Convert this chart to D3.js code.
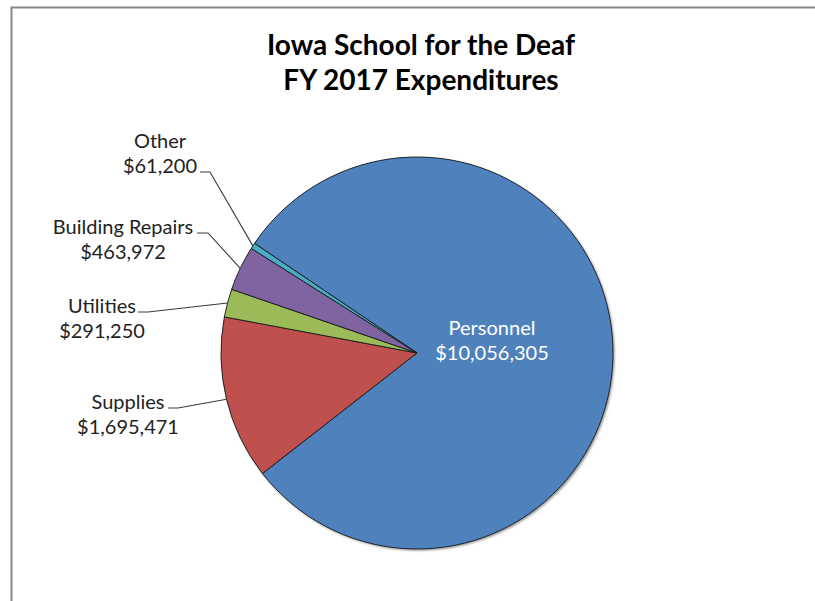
<!DOCTYPE html>
<html>
<head>
<meta charset="utf-8">
<script src="https://cdn.jsdelivr.net/npm/d3@7"></script>
<style>
  body { margin: 0; background: #fff; }
  svg { display: block; }
  text { font-family: Lato, "Liberation Sans", sans-serif; }
</style>
</head>
<body>
<div id="chart"></div>
<script>
const categories = ["Personnel", "Supplies", "Utilities", "Building Repairs", "Other"];
const amounts = [10056305, 1695471, 291250, 463972, 61200];
const sliceColors = ["#4f81bd", "#c0504d", "#9bbb59", "#8064a2", "#4bacc6"];
const titleLines = ["Iowa School for the Deaf", "FY 2017 Expenditures"];

const width = 815;
const height = 601;
const cx = 417;
const cy = 353;
const radius = 196;
const firstSliceAngle = -56; // degrees, like Excel's "angle of first slice"

const svg = d3
  .select("#chart")
  .append("svg")
  .attr("width", width)
  .attr("height", height);

// chart area frame, runs off the right and bottom edge
svg
  .append("rect")
  .attr("x", 11.5)
  .attr("y", 7.5)
  .attr("width", width + 20)
  .attr("height", height + 20)
  .attr("fill", "#fff")
  .attr("stroke", "#878787")
  .attr("stroke-width", 2);

const defs = svg.append("defs");
defs
  .append("filter")
  .attr("id", "shadow")
  .attr("x", "-10%")
  .attr("y", "-10%")
  .attr("width", "120%")
  .attr("height", "120%")
  .append("feDropShadow")
  .attr("dx", 1.5)
  .attr("dy", 1.5)
  .attr("stdDeviation", 1.2)
  .attr("flood-color", "#000")
  .attr("flood-opacity", 0.45);

const title = svg
  .append("text")
  .attr("x", 421)
  .attr("y", 55)
  .attr("text-anchor", "middle")
  .attr("font-size", 28)
  .attr("font-weight", "bold")
  .attr("fill", "#000");

title
  .selectAll("tspan")
  .data(titleLines)
  .enter()
  .append("tspan")
  .attr("x", 421)
  .attr("dy", (d, i) => (i === 0 ? 0 : 35))
  .text((d) => d);

const data = categories.map((c, i) => ({
  name: c,
  value: amounts[i],
  color: sliceColors[i],
}));

const start = (firstSliceAngle * Math.PI) / 180;
const pie = d3
  .pie()
  .sort(null)
  .value((d) => d.value)
  .startAngle(start)
  .endAngle(start + 2 * Math.PI);

const arcs = pie(data);
const arc = d3.arc().innerRadius(0).outerRadius(radius);

const g = svg.append("g").attr("transform", `translate(${cx},${cy})`);

g.append("circle")
  .attr("r", radius)
  .attr("fill", "#4f81bd")
  .attr("filter", "url(#shadow)");

g.selectAll(".slice")
  .data(arcs)
  .enter()
  .append("path")
  .attr("class", "slice")
  .attr("d", arc)
  .attr("fill", (d) => d.data.color)
  .attr("stroke", "#1a1a1a")
  .attr("stroke-width", 0.9)
  .attr("stroke-linejoin", "round");

const fmt = (v) => "$" + d3.format(",")(v);

// label layout (Excel placed these by hand)
const labelPos = {
  Personnel: { x: 492, y: 335, color: "#fff", leader: null },
  Supplies: { x: 128, y: 409, color: "#222", leader: [168, 178] },
  Utilities: { x: 102, y: 313, color: "#222", leader: [138, 148] },
  "Building Repairs": { x: 123, y: 234, color: "#222", leader: [197, 208] },
  Other: { x: 160, y: 148, color: "#222", leader: null, leader2: [200, 172, 210] },
};

arcs.forEach((a) => {
  const p = labelPos[a.data.name];
  const mid = (a.startAngle + a.endAngle) / 2;
  const ex = cx + radius * Math.sin(mid);
  const ey = cy - radius * Math.cos(mid);

  let lx0 = null, lx1 = null, ly = null;
  if (p.leader) {
    [lx0, lx1] = p.leader;
    ly = p.y - 1;
  } else if (p.leader2) {
    [lx0, ly, lx1] = p.leader2;
  }
  if (lx0 !== null) {
    svg
      .append("path")
      .attr("d", `M${lx0},${ly}H${lx1}L${ex},${ey}`)
      .attr("fill", "none")
      .attr("stroke", "#3a3a3a")
      .attr("stroke-width", 1.1);
  }

  const t = svg
    .append("text")
    .attr("text-anchor", "middle")
    .attr("font-size", 20)
    .attr("fill", p.color);
  t.append("tspan").attr("x", p.x).attr("y", p.y).text(a.data.name);
  t.append("tspan").attr("x", p.x).attr("y", p.y + 25).text(fmt(a.data.value));
});
</script>
</body>
</html>
